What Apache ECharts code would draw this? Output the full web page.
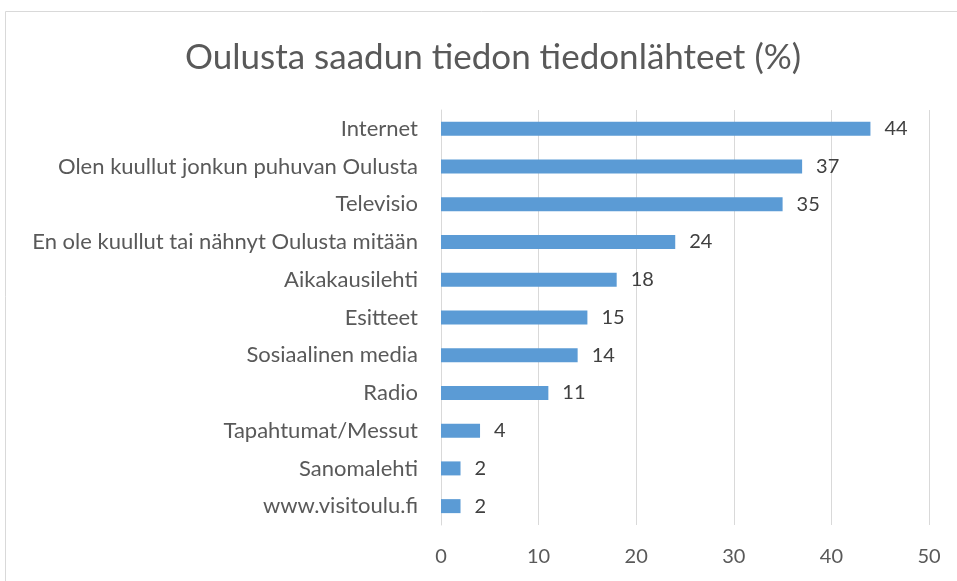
<!DOCTYPE html>
<html>
<head>
<meta charset="utf-8">
<script src="https://cdn.jsdelivr.net/npm/echarts@6/dist/echarts.min.js"></script>
<style>
  html, body { margin: 0; padding: 0; background: #fff; }
  #chart { width: 957px; height: 581px; }
</style>
</head>
<body>
<div id="chart"></div>
<script>
// lähteet ylhäältä alas
const categories = [
  "Internet",
  "Olen kuullut jonkun puhuvan Oulusta",
  "Televisio",
  "En ole kuullut tai nähnyt Oulusta mitään",
  "Aikakausilehti",
  "Esitteet",
  "Sosiaalinen media",
  "Radio",
  "Tapahtumat/Messut",
  "Sanomalehti",
  "www.visitoulu.fi"
];
const values = [44, 37, 35, 24, 18, 15, 14, 11, 4, 2, 2];
const xTicks = { min: 0, max: 50, interval: 10 };

const font = "Lato, 'Liberation Sans', sans-serif";
var myChart = echarts.init(document.getElementById("chart"));

var option = {
  backgroundColor: "#fff",
  textStyle: { fontFamily: font },
  title: {
    text: "Oulusta saadun tiedon tiedonlähteet (%)",
    left: 180,
    top: 35,
    textStyle: { fontFamily: font, fontSize: 35, fontWeight: "normal", color: "#595959" }
  },
  // reunus
  graphic: [
    {
      type: "rect",
      shape: { x: 5.5, y: 11.5, width: 980, height: 620 },
      style: { fill: "none", stroke: "#d9d9d9", lineWidth: 1 },
      silent: true
    }
  ],
  grid: {
    left: 441,
    right: 28,
    top: 110,
    bottom: 56,
    containLabel: false,
    outerBoundsMode: "none"
  },
  xAxis: {
    type: "value",
    min: xTicks.min,
    max: xTicks.max,
    interval: xTicks.interval,
    axisLine: { show: false },
    axisTick: { show: false },
    splitLine: { lineStyle: { color: "#d9d9d9", width: 1 } },
    axisLabel: { color: "#595959", fontSize: 20, margin: 22, fontFamily: font }
  },
  yAxis: {
    type: "category",
    data: categories,
    inverse: true,
    axisLine: { show: true, lineStyle: { color: "#d9d9d9" } },
    axisTick: { show: false },
    axisLabel: { color: "#595959", fontSize: 22, margin: 23, fontFamily: font }
  },
  series: [
    {
      type: "bar",
      data: values,
      barWidth: 14,
      itemStyle: { color: "#5b9bd5" },
      label: {
        show: true,
        position: "right",
        distance: 14,
        color: "#404040",
        fontSize: 20,
        fontFamily: font
      },
      animation: false
    }
  ]
};

myChart.setOption(option);
</script>
</body>
</html>
